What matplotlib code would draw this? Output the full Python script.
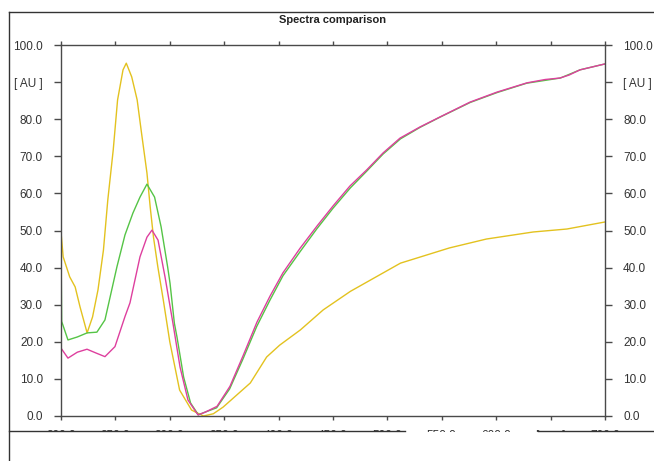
import matplotlib
matplotlib.use("Agg")
import matplotlib.pyplot as plt
from matplotlib.lines import Line2D
from matplotlib.patches import Rectangle

plt.rcParams['font.family'] = ['Liberation Sans', 'DejaVu Sans']

# wavelengths [nm] and absorbance [AU]
wl_yellow = [200, 202, 208, 213, 217.5, 224, 229, 234, 239, 243, 248, 252, 257, 260,
             265, 270, 274, 279, 282, 285, 289, 294, 300, 309, 320, 331, 340, 349,
             374, 389, 401, 420, 441, 466, 512, 557, 591, 634, 665, 700]
ab_yellow = [49.6, 42.9, 37.5, 34.8, 29.4, 22.4, 26.7, 34.0, 44.7, 58.2, 71.7, 85.2, 93.3, 95.1,
             91.4, 85.2, 76.3, 65.5, 56.3, 48.2, 40.2, 31.3, 20.0, 7.0, 1.6, 0.0, 0.6, 2.4,
             8.9, 15.9, 19.1, 23.2, 28.6, 33.6, 41.2, 45.3, 47.7, 49.6, 50.4, 52.3]

wl_green = [200, 200.6, 206.4, 215, 224, 233, 240.4, 251.4, 258.8, 266.1, 272.6, 279, 286,
            292, 298, 300.2, 304.2, 306.6, 312.7, 319.1, 326.3, 332, 343, 355, 367, 380,
            392, 404, 420, 435, 450, 466, 481, 496, 512, 530, 548, 576, 601, 628, 659,
            677, 700]
ab_green = [47.5, 25.5, 20.5, 21.3, 22.4, 22.6, 25.9, 40.2, 48.8, 54.7, 59.0, 62.5, 59.0,
            51.0, 40.2, 35.8, 25.0, 21.3, 10.5, 3.5, 0.3, 1.0, 2.2, 7.3, 15.2, 24.2,
            31.2, 37.8, 44.4, 50.4, 56.0, 61.5, 66.0, 70.6, 74.7, 77.8, 80.5, 84.5, 87.2,
            89.7, 91.1, 93.3, 94.9]

wl_pink = [200, 206.4, 215, 223.9, 232, 240.4, 249.6, 258.8, 263.4, 272.6, 279, 283.6,
           289.2, 295.6, 302.9, 309.4, 316.7, 325.9, 332.3, 343.4, 355.3, 367.3, 380.1,
           392.1, 404, 419.7, 435.3, 450, 465.6, 481.2, 496, 511.6, 529.9, 548.3, 575.9,
           600.7, 628.3, 645, 658.6, 667, 677, 700]
ab_pink = [18.3, 15.6, 17.2, 18.0, 17.0, 16.0, 18.7, 26.8, 30.5, 42.9, 48.2, 50.1,
           47.4, 37.5, 25.0, 13.2, 4.3, 0.3, 1.0, 2.6, 8.0, 16.2, 25.3,
           32.3, 38.6, 45.2, 51.2, 56.6, 62.0, 66.4, 70.9, 74.9, 77.9, 80.6, 84.6,
           87.3, 89.8, 90.7, 91.1, 91.9, 93.3, 94.9]

x_ticks = [200, 250, 300, 350, 400, 450, 500, 550, 600, 650, 700]
x_labels = ['200.0', '250.0', '300.0', '350.0', '400.0', '450.0', '500.0', '550.0',
            '600.0', '[ nm ]', '700.0']
y_ticks = [0, 10, 20, 30, 40, 50, 60, 70, 80, 90, 100]
y_labels = ['0.0', '10.0', '20.0', '30.0', '40.0', '50.0', '60.0', '70.0', '80.0',
            '[ AU ]', '100.0']

W, H = 654, 461
fig = plt.figure(figsize=(W / 100, H / 100), dpi=100)
fig.patch.set_facecolor('white')
ax = fig.add_axes([61 / W, 1 - 416 / H, (605 - 61) / W, (416 - 45) / H])

ax.plot(wl_yellow, ab_yellow, color='#e3c21f', lw=1.0)
ax.plot(wl_green, ab_green, color='#55c446', lw=1.0)
ax.plot(wl_pink, ab_pink, color='#de3f9e', lw=1.0)

ax.set_xlim(200, 700)
ax.set_ylim(0, 100)
ax.set_xticks(x_ticks)
ax.set_xticklabels(x_labels)
ax.set_yticks(y_ticks)
ax.set_yticklabels(y_labels)

edge = '#4a4a4a'
for s in ax.spines.values():
    s.set_color(edge)
    s.set_linewidth(1.0)
ax.tick_params(axis='y', which='both', left=True, right=True, labelleft=True,
               labelright=True, direction='out', length=5, width=1, color=edge,
               labelsize=8.5, labelcolor='#333333', pad=8)
ax.tick_params(axis='x', which='both', bottom=True, top=True, direction='out',
               length=3, width=1, color=edge, labelsize=8.5, labelcolor='#333333',
               pad=7)

fig.text(333 / W, 1 - 20 / H, 'Spectra comparison', ha='center', va='center',
         fontsize=8, fontweight='bold', color='#222222')

# outer frame and the white band that cuts off the x tick labels
fig.patches.append(Rectangle((0, 0), 1, 1 - 431.5 / H, transform=fig.transFigure,
                             facecolor='white', edgecolor='none', zorder=5))
frame = dict(color='#333333', lw=1.0, transform=fig.transFigure, zorder=6)
fig.lines.append(Line2D([9 / W, 9 / W], [0, 1 - 12 / H], **frame))
fig.lines.append(Line2D([9 / W, 1], [1 - 12 / H, 1 - 12 / H], **frame))
fig.lines.append(Line2D([9 / W, 405 / W], [1 - 431 / H, 1 - 431 / H], **frame))
fig.lines.append(Line2D([538 / W, 1], [1 - 431 / H, 1 - 431 / H], **frame))

fig.savefig('out.png', dpi=100)
